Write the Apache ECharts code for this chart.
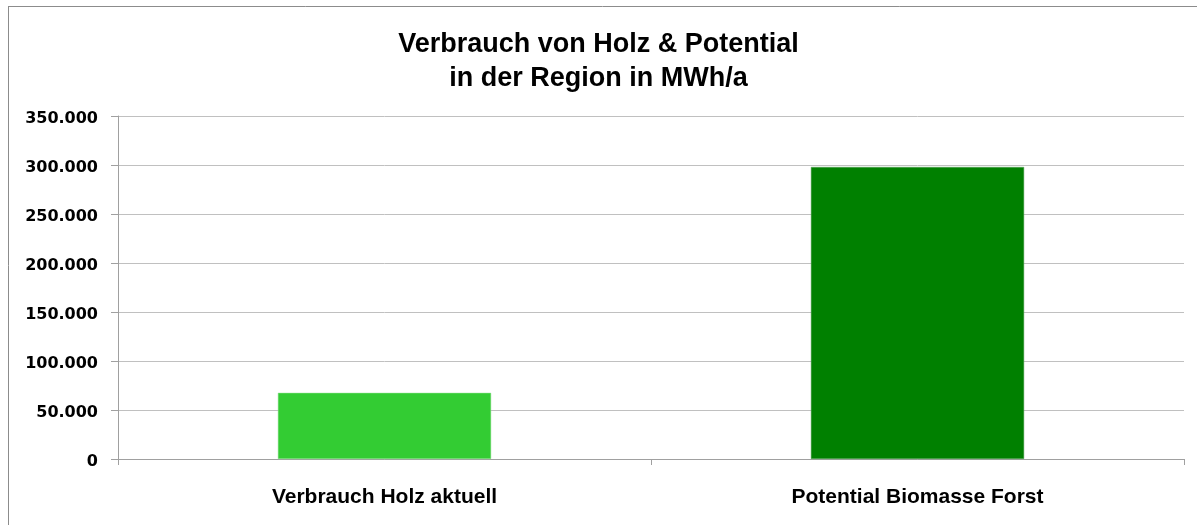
<!DOCTYPE html>
<html>
<head>
<meta charset="utf-8">
<script src="https://cdn.jsdelivr.net/npm/echarts@6/dist/echarts.min.js"></script>
<style>
  html, body { margin: 0; padding: 0; background: #fff; }
  #chart { width: 1197px; height: 525px; }
</style>
</head>
<body>
<div id="chart"></div>
<script>
// Wood consumption vs. forest biomass potential (MWh/a)
const categories = ['Verbrauch Holz aktuell', 'Potential Biomasse Forst'];
const values = [67500, 298000];
const barColors = ['#33cc33', '#008000'];
const titleLines = ['Verbrauch von Holz & Potential', 'in der Region in MWh/a'];

// German thousands separator
const fmt = v => '{n|' + String(v).replace(/\B(?=(\d{3})+(?!\d))/g, '.') + '}';

const chart = echarts.init(document.getElementById('chart'), null, { renderer: 'canvas' });
chart.setOption({
  backgroundColor: '#ffffff',
  animation: false,
  title: {
    text: titleLines.join('\n'),
    left: 'center',
    top: 23,
    textStyle: {
      fontFamily: 'Liberation Sans, sans-serif',
      fontWeight: 'bold',
      fontSize: 27,
      lineHeight: 34,
      color: '#000'
    }
  },
  grid: { left: 118, right: 13, top: 116, bottom: 66, containLabel: false },
  xAxis: {
    type: 'category',
    data: categories,
    axisLine: { lineStyle: { color: '#a0a0a0', width: 1 } },
    axisTick: { show: true, length: 6, lineStyle: { color: '#a0a0a0' } },
    axisLabel: {
      margin: 28,
      fontFamily: 'Liberation Sans, sans-serif',
      fontWeight: 'bold',
      fontSize: 21,
      color: '#000'
    }
  },
  yAxis: {
    type: 'value',
    min: 0,
    max: 350000,
    interval: 50000,
    axisLine: { show: true, lineStyle: { color: '#a0a0a0', width: 1 } },
    axisTick: { show: true, length: 7, lineStyle: { color: '#a0a0a0' } },
    splitLine: { lineStyle: { color: '#c0c0c0', width: 1 } },
    axisLabel: {
      margin: 20,
      formatter: fmt,
      rich: {
        n: {
          fontFamily: 'DejaVu Sans, sans-serif',
          fontWeight: 'bold',
          fontSize: 16,
          color: '#000',
          padding: [5, 0, 0, 0]
        }
      }
    }
  },
  series: [{
    type: 'bar',
    barWidth: '40%',
    data: values.map((v, i) => ({
      value: v,
      itemStyle: { color: barColors[i], borderColor: i === 0 ? '#8fdf8f' : '#5aa05a', borderWidth: 0.5 }
    }))
  }],
  graphic: [
    { type: 'line', shape: { x1: 8, y1: 6.5, x2: 1197, y2: 6.5 }, style: { stroke: '#8c8c8c', lineWidth: 1 } },
    { type: 'line', shape: { x1: 8.5, y1: 6, x2: 8.5, y2: 525 }, style: { stroke: '#8c8c8c', lineWidth: 1 } }
  ]
});
</script>
</body>
</html>
